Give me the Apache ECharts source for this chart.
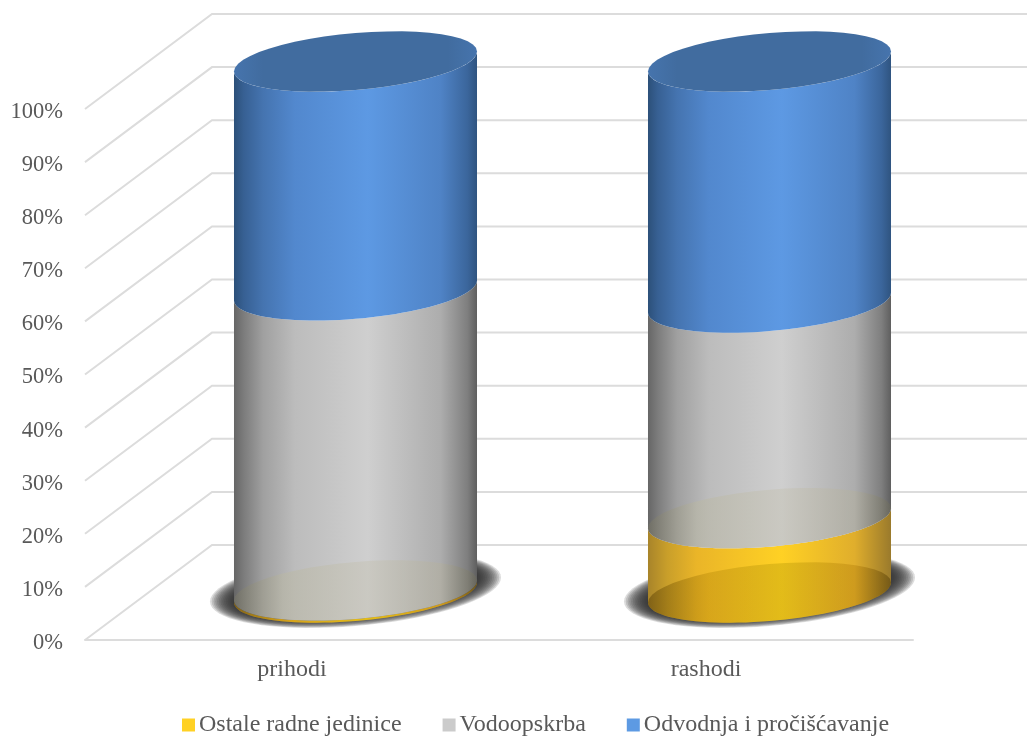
<!DOCTYPE html>
<html>
<head>
<meta charset="utf-8">
<style>
  html, body { margin: 0; padding: 0; background: #fff; }
  #chart { width: 1027px; height: 737px; }
</style>
<script src="https://cdn.jsdelivr.net/npm/echarts@6/dist/echarts.min.js"></script>
</head>
<body>
<div id="chart"></div>
<script>
var categories = ['prihodi', 'rashodi'];
var seriesNames = ['Ostale radne jedinice', 'Vodoopskrba', 'Odvodnja i pročišćavanje'];
var ostale = [0.4, 14];
var vodoopskrba = [56.5, 40.6];
var odvodnja = [43.1, 45.4];
var axisTicks = [0, 10, 20, 30, 40, 50, 60, 70, 80, 90, 100];
var legendColors = ['#ffd124', '#cbcbcb', '#5d9ae3'];

// perspective of the floor, in px
var depthX = 127, depthY = 95;
var tiltY = 10, discY = 28.5, widthRatio = 0.2935;

function hGrad(stops) {
    return new echarts.graphic.LinearGradient(0, 0, 1, 0, stops.map(function (s) {
        return { offset: s[0], color: s[1] };
    }));
}

var sideFill = [
    [[0, '#a8842a'], [0.08, '#c99f2a'], [0.2, '#eab528'], [0.55, '#ffd124'], [0.85, '#e0ae2c'], [1, '#9a7a2c']],
    [[0, '#666666'], [0.04, '#7c7c7c'], [0.12, '#a0a0a0'], [0.25, '#bcbcbc'], [0.55, '#cfcfcf'], [0.85, '#adadad'], [0.96, '#7f7f7f'], [1, '#5f5f5f']],
    [[0, '#2c5079'], [0.04, '#376093'], [0.12, '#4574b0'], [0.25, '#5288ce'], [0.55, '#5d99e3'], [0.85, '#4f83c6'], [0.96, '#3b669c'], [1, '#2f5480']]
];

// tilted ellipse arc, angle goes from t0 to t1
function arc(cx, cy, r, t0, t1) {
    var pts = [], n = 48;
    for (var i = 0; i <= n; i++) {
        var t = t0 + (t1 - t0) * i / n;
        pts.push([cx + r * Math.cos(t), cy - tiltY * Math.cos(t) + discY * Math.sin(t)]);
    }
    return pts;
}

function renderCylinder(params, api) {
    var idx = params.seriesIndex - 1;
    var from = api.coord([api.value(0), api.value(1)]);
    var to = api.coord([api.value(0), api.value(2)]);
    var r = api.size([1, 0])[0] * widthRatio;
    var cx = from[0] + depthX / 2;
    var y0 = from[1] - depthY / 2;
    var y1 = to[1] - depthY / 2;
    var children = [];

    if (idx === 0) {
        // soft shadow on the floor, stacked translucent rings
        for (var k = 0; k < 14; k++) {
            var grow = 1 - k / 13;
            var shadowPts = [];
            for (var i = 0; i <= 72; i++) {
                var t = i / 72 * Math.PI * 2;
                shadowPts.push([
                    cx + (r + 1 + 23 * grow) * Math.cos(t),
                    y0 - 3 - (tiltY + 2) * Math.cos(t) + (discY - 1 + 9 * grow) * Math.sin(t)
                ]);
            }
            children.push({
                type: 'polygon',
                shape: { points: shadowPts },
                style: { fill: 'rgba(50,50,50,0.17)' }
            });
        }
    }

    var side = arc(cx, y0, r, Math.PI, 0).concat(arc(cx, y1, r, 0, Math.PI));
    children.push({
        type: 'polygon',
        shape: { points: side },
        style: { fill: hGrad(sideFill[idx]) }
    });

    if (idx === 0) {
        // base seen through the yellow
        children.push({
            type: 'polygon',
            shape: { points: arc(cx, y0, r, 0, Math.PI * 2) },
            style: {
                fill: hGrad([[0, 'rgba(80,55,0,0.45)'], [0.25, 'rgba(170,125,0,0.32)'], [0.55, 'rgba(161,138,0,0.3)'], [0.85, 'rgba(170,115,0,0.32)'], [1, 'rgba(70,50,0,0.45)']])
            }
        });
    }
    if (idx === 1) {
        // top of the yellow part seen through the grey
        children.push({
            type: 'polygon',
            shape: { points: arc(cx, y0, r, 0, Math.PI * 2) },
            style: {
                fill: hGrad([[0, 'rgba(120,118,100,0.5)'], [0.2, 'rgba(185,183,165,0.6)'], [0.55, 'rgba(200,198,188,0.7)'], [0.85, 'rgba(178,175,160,0.6)'], [1, 'rgba(110,108,90,0.5)']])
            }
        });
    }
    if (idx === 2) {
        children.push({
            type: 'polygon',
            shape: { points: arc(cx, y1, r, 0, Math.PI * 2) },
            style: {
                fill: hGrad([[0, '#4674ad'], [0.12, '#416c9f'], [0.88, '#416c9f'], [1, '#4674ad']])
            }
        });
    }
    return { type: 'group', children: children };
}

// gridlines run back along the side wall, then across the back wall
function renderWall(params, api) {
    var cs = params.coordSys;
    var y = api.coord([0, api.value(0)])[1];
    return {
        type: 'polyline',
        shape: {
            points: [
                [cs.x, y],
                [cs.x + depthX, y - depthY],
                [cs.x + cs.width + depthX, y - depthY]
            ]
        },
        style: { fill: null, stroke: '#dcdcdc', lineWidth: 2 }
    };
}

function cylinderRows(values, below) {
    return categories.map(function (c, i) {
        var start = 0;
        below.forEach(function (b) { start += b[i]; });
        return [i, start, start + values[i]];
    });
}

var chart = echarts.init(document.getElementById('chart'));
chart.setOption({
    animation: false,
    backgroundColor: '#ffffff',
    textStyle: { fontFamily: 'Liberation Serif' },
    grid: { left: 85, right: 114, top: 109, bottom: 97 },
    legend: {
        data: seriesNames,
        left: 182,
        top: 713,
        padding: 0,
        icon: 'rect',
        itemWidth: 13,
        itemHeight: 13,
        itemGap: 41,
        textStyle: { fontFamily: 'Liberation Serif', fontSize: 24, color: '#595959', padding: [0, 0, 0, -1] }
    },
    xAxis: {
        type: 'category',
        data: categories,
        axisTick: { show: false },
        axisLine: { lineStyle: { color: '#dcdcdc', width: 2 } },
        axisLabel: { fontFamily: 'Liberation Serif', fontSize: 24, color: '#595959', margin: 18 }
    },
    yAxis: {
        type: 'value',
        min: 0,
        max: 100,
        interval: 10,
        axisLine: { show: false },
        axisTick: { show: false },
        splitLine: { show: false },
        axisLabel: {
            formatter: '{t|{value}%}',
            margin: 22,
            rich: {
                t: { fontFamily: 'Liberation Serif', fontSize: 22.5, color: '#595959', padding: [6, 0, 0, 0] }
            }
        }
    },
    series: [
        {
            name: 'wall',
            type: 'custom',
            silent: true,
            clip: false,
            renderItem: renderWall,
            encode: { y: 0 },
            data: axisTicks.map(function (t) { return [t]; }),
            z: 1
        },
        {
            name: seriesNames[0],
            type: 'custom',
            clip: false,
            renderItem: renderCylinder,
            itemStyle: { color: legendColors[0] },
            encode: { x: 0, y: [1, 2] },
            data: cylinderRows(ostale, []),
            z: 2
        },
        {
            name: seriesNames[1],
            type: 'custom',
            clip: false,
            renderItem: renderCylinder,
            itemStyle: { color: legendColors[1] },
            encode: { x: 0, y: [1, 2] },
            data: cylinderRows(vodoopskrba, [ostale]),
            z: 3
        },
        {
            name: seriesNames[2],
            type: 'custom',
            clip: false,
            renderItem: renderCylinder,
            itemStyle: { color: legendColors[2] },
            encode: { x: 0, y: [1, 2] },
            data: cylinderRows(odvodnja, [ostale, vodoopskrba]),
            z: 4
        }
    ]
});
</script>
</body>
</html>
